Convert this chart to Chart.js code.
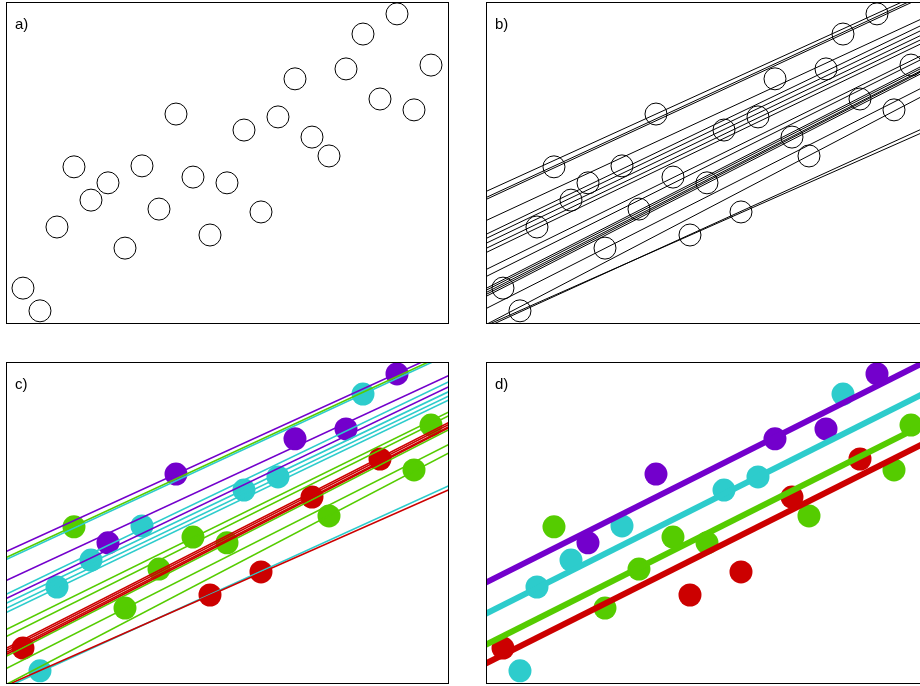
<!DOCTYPE html>
<html>
<head>
<meta charset="utf-8">
<script src="https://cdn.jsdelivr.net/npm/chart.js@4.4.1/dist/chart.umd.min.js"></script>
<style>
    body { margin: 0; width: 920px; height: 686px; overflow: hidden; position: relative; background: #fff; }
    .panel { position: absolute; width: 441px; height: 320px; border: 1px solid #000; }
    .panel canvas { display: block; }
    .tag { position: absolute; left: 8px; top: 13px; font: 15px "Liberation Sans", Arial, sans-serif; line-height: 15px; color: #000; }
</style>
</head>
<body>
<div class="panel" style="left:6px; top:2px;"><canvas id="chartA" width="441" height="320"></canvas><div class="tag">a)</div></div>
<div class="panel" style="left:486px; top:2px;"><canvas id="chartB" width="441" height="320"></canvas><div class="tag">b)</div></div>
<div class="panel" style="left:6px; top:362px;"><canvas id="chartC" width="441" height="320"></canvas><div class="tag">c)</div></div>
<div class="panel" style="left:486px; top:362px;"><canvas id="chartD" width="441" height="320"></canvas><div class="tag">d)</div></div>
<script>
// Observations
const xValues = [1, 2, 3, 4, 5, 6, 7, 8, 9, 10, 11, 12, 13, 14, 15, 16, 17, 18, 19, 20, 21, 22, 23, 24, 25];
const yValues = [1.09, 0.38, 3.0, 4.88, 3.84, 4.38, 2.34, 4.91, 3.56, 6.53, 4.56, 2.75, 4.38,
                 6.03, 3.47, 6.44, 7.63, 5.81, 5.22, 7.94, 9.03, 7.0, 9.66, 6.66, 8.06];
const pointGroups = ['red', 'cyan', 'cyan', 'green', 'cyan', 'purple', 'green', 'cyan', 'green', 'purple',
                     'green', 'red', 'green', 'cyan', 'red', 'cyan', 'purple', 'red', 'green', 'purple',
                     'cyan', 'red', 'purple', 'green', 'green'];

// Fitted lines (panels b and c)
const fitIntercepts = [4.11, 3.92, 3.86, 3.20, 2.77, 2.64, 2.49, 2.33, 2.20, 1.67,
                       1.45, 1.08, 1.02, 0.95, 0.89, 0.83, 0.45, -0.05, -0.08, -0.14];
const fitSlopes = [0.242, 0.246, 0.246, 0.246, 0.255, 0.254, 0.254, 0.255, 0.255, 0.261,
                   0.265, 0.271, 0.271, 0.271, 0.272, 0.272, 0.269, 0.278, 0.235, 0.242];
const fitGroups = ['purple', 'green', 'cyan', 'purple', 'cyan', 'purple', 'cyan', 'cyan', 'cyan', 'green',
                   'green', 'red', 'red', 'red', 'red', 'green', 'green', 'green', 'red', 'cyan'];

// Group lines (panel d), common slope
const groupNames = ['purple', 'cyan', 'green', 'red'];
const groupIntercepts = [3.14, 2.17, 1.20, 0.61];
const groupSlope = 0.267;

const colors = { red: '#cc0000', cyan: '#2dcccc', green: '#55cc00', purple: '#7300cc' };
const xMin = 0.06, xMax = 26, yMin = 0, yMax = 10;

document.addEventListener('DOMContentLoaded', function() {
    const points = xValues.map((x, i) => ({ x: x, y: yValues[i] }));

    function lineData(a, b) {
        return [
            { x: xMin - 1, y: a + b * (xMin - 1) },
            { x: xMax + 1, y: a + b * (xMax + 1) }
        ];
    }

    function lineSet(a, b, color, width) {
        return {
            data: lineData(a, b),
            showLine: true,
            borderColor: color,
            borderWidth: width,
            pointRadius: 0,
            order: 0
        };
    }

    function openPoints() {
        return {
            data: points,
            pointRadius: 11,
            pointBorderWidth: 1,
            pointBorderColor: '#000',
            pointBackgroundColor: 'rgba(0,0,0,0)',
            order: 1
        };
    }

    function filledPoints() {
        return {
            data: points,
            pointRadius: 11.5,
            pointBorderWidth: 0,
            pointBackgroundColor: pointGroups.map(g => colors[g]),
            order: 1
        };
    }

    function makeChart(id, datasets) {
        return new Chart(document.getElementById(id), {
            type: 'scatter',
            data: { datasets: datasets },
            options: {
                responsive: false,
                animation: false,
                events: [],
                layout: { padding: 0, autoPadding: false },
                plugins: { legend: { display: false }, tooltip: { enabled: false } },
                scales: {
                    x: { type: 'linear', min: xMin, max: xMax, display: false },
                    y: { type: 'linear', min: yMin, max: yMax, display: false }
                }
            }
        });
    }

    // a) raw data
    makeChart('chartA', [openPoints()]);

    // b) fitted lines in black
    makeChart('chartB', fitIntercepts.map((a, i) => lineSet(a, fitSlopes[i], '#000', 1)).concat([openPoints()]));

    // c) fitted lines coloured by group
    makeChart('chartC', fitIntercepts.map((a, i) => lineSet(a, fitSlopes[i], colors[fitGroups[i]], 1.6)).concat([filledPoints()]));

    // d) one line per group
    makeChart('chartD', groupNames.map((g, i) => lineSet(groupIntercepts[i], groupSlope, colors[g], 6)).concat([filledPoints()]));
});
</script>
</body>
</html>
